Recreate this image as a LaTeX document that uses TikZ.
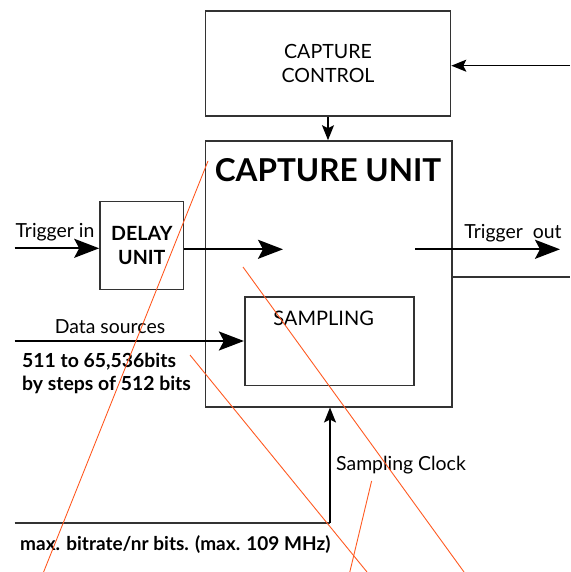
\documentclass[tikz,border=0pt]{standalone}
\usepackage{fontspec}
\setmainfont{Lato}
\usetikzlibrary{arrows.meta,positioning,calc}
\tikzset{>=Stealth}
\definecolor{strayred}{RGB}{255,90,34}

\begin{document}
\begin{tikzpicture}[
    x=1pt, y=-1pt,
    block/.style={rectangle, draw=black!80, line width=1.6pt, inner sep=0pt, align=center},
    lbl/.style={anchor=base, inner sep=0pt, font=\fontsize{19.4}{23}\selectfont},
    boldlbl/.style={inner sep=0pt, align=left, font=\bfseries\fontsize{19.4}{23.4}\selectfont},
    big/.style={-{Stealth[length=25pt,width=19pt,inset=5pt]}, line width=2.2pt},
    small/.style={-{Stealth[length=15pt,width=12pt,inset=3pt]}, line width=1.5pt},
    wire/.style={line width=1.6pt, draw=black!80},
    stray/.style={draw=strayred, line width=0.9pt}
]
    \useasboundingbox (0,0) rectangle (570,572);

    \node[block, minimum width=245, minimum height=105, font=\fontsize{19.6}{24}\selectfont] (ctrl) at (328,63.5) {CAPTURE\\CONTROL};
    \node[block, minimum width=246.5, minimum height=265.7] (unit) at (328.75,273.85) {};
    \node[anchor=base, inner sep=0pt, font=\bfseries\fontsize{31.5}{36}\selectfont] (title) at (328,182) {CAPTURE UNIT};
    \node[block, minimum width=83.6, minimum height=88, font=\bfseries\fontsize{19.6}{24}\selectfont] (delay) at (141.8,245.3) {DELAY\\UNIT};
    \node[block, minimum width=169, minimum height=88.6] (sampling) at (329.2,341) {};
    \node[anchor=base, inner sep=0pt, font=\fontsize{20}{22}\selectfont] (samptext) at (323.6,325) {SAMPLING};

    \coordinate (tin) at (14.5,248.3);
    \coordinate (mid) at (283,249.3);
    \coordinate (toutA) at (415,249.3);
    \coordinate (toutB) at (560,249.3);
    \coordinate (fb) at (570,276.7);
    \coordinate (ctrlin) at (570,65.7);
    \coordinate (ds) at (14.5,341);
    \coordinate (clk) at (14.5,522.7);
    \coordinate (clkc) at (330,522.7);

    \draw[big] (tin) -- (tin -| delay.west);
    \draw[big] (mid -| delay.east) -- (mid);
    \draw[big] (toutA) -- (toutB);
    \draw[wire] (fb -| unit.east) -- (fb);
    \draw[small] (ctrlin) -- (ctrlin -| ctrl.east);
    \draw[small] (ctrl.south) -- (ctrl.south |- unit.north);
    \draw[big] (ds) -- (sampling.west);
    \draw[wire] (clk) -- (clkc);
    \draw[small] (clkc) -- (clkc |- unit.south);

    \node[lbl] (tinlbl) at (55,237) {Trigger in};
    \node[lbl] (toutlbl) at (513,238) {Trigger~ out};
    \node[lbl] (dslbl) at (110,333) {Data sources};
    \node[boldlbl, anchor=base west] (bits) at (22,390.7) {511 to 65,536bits\\by steps of 512 bits};
    \node[lbl, anchor=base west] (clklbl) at (336,470) {Sampling Clock};
    \node[boldlbl, anchor=base west, font=\bfseries\fontsize{19}{23}\selectfont] (rate) at (20,550.7) {max. bitrate/nr bits. (max. 109 MHz)};

    \draw[stray] (208,161) -- (43.6,572);
    \draw[stray] (243,267) -- (464,572);
    \draw[stray] (190,355) -- (367,572);
    \draw[stray] (371.6,481) -- (349.8,572);
\end{tikzpicture}
\end{document}
